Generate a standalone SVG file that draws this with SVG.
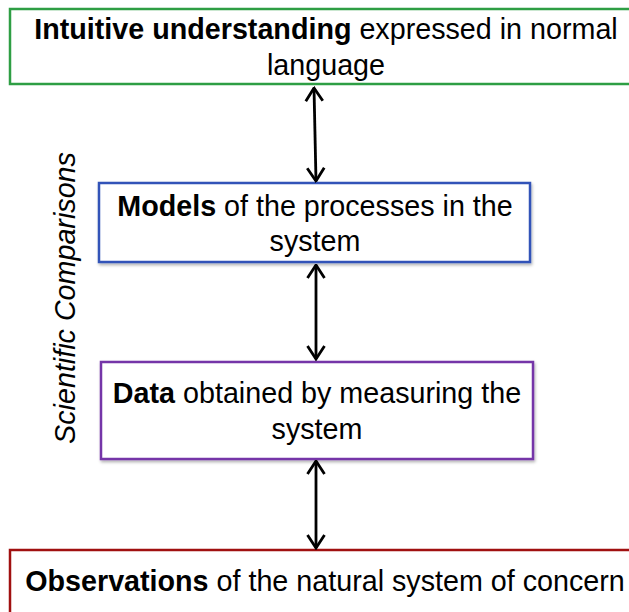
<svg xmlns="http://www.w3.org/2000/svg" width="629" height="612" viewBox="0 0 629 612">
<style>
text{font-family:"Liberation Sans",Arial,sans-serif;font-size:28.7px;fill:#000}
.b{font-weight:bold}
.box{fill:#fff;stroke-width:2.5}
.conn line{stroke:#000;stroke-width:2.8;marker-start:url(#ah);marker-end:url(#ah)}
</style>
<defs>
<marker id="ah" viewBox="0 0 16 20" refX="14.5" refY="10" markerWidth="16" markerHeight="20" markerUnits="userSpaceOnUse" orient="auto-start-reverse">
<path d="M1.5,1.5 L14.5,10 L1.5,18.5" fill="none" stroke="#000" stroke-width="2.8"/>
</marker>
<filter id="sh" x="-5%" y="-5%" width="110%" height="120%">
<feDropShadow dx="1" dy="2" stdDeviation="1.5" flood-color="#000" flood-opacity="0.3"/>
</filter>
</defs>
<g id="intuitive">
<rect class="box" x="10" y="9" width="640" height="75" stroke="#2e9e44"/>
<text x="326" y="39" text-anchor="middle"><tspan class="b">Intuitive understanding</tspan> expressed in normal</text>
<text x="326" y="75" text-anchor="middle">language</text>
</g>
<g id="models">
<rect class="box" x="99" y="183" width="431" height="79" stroke="#3153b8" filter="url(#sh)"/>
<text x="315" y="216" text-anchor="middle"><tspan class="b">Models</tspan> of the processes in the</text>
<text x="315" y="251" text-anchor="middle">system</text>
</g>
<g id="data">
<rect class="box" x="101" y="362" width="432" height="97" stroke="#7436a8" filter="url(#sh)"/>
<text x="317" y="403" text-anchor="middle"><tspan class="b">Data</tspan> obtained by measuring the</text>
<text x="317" y="439" text-anchor="middle">system</text>
</g>
<g id="observations">
<rect class="box" x="10" y="550" width="640" height="80" stroke="#a01010"/>
<text x="325" y="591" text-anchor="middle"><tspan class="b">Observations</tspan> of the natural system of concern</text>
</g>
<g id="label">
<text transform="translate(75,298) rotate(-90)" text-anchor="middle" font-style="italic">Scientific Comparisons</text>
</g>
<g id="connectors" class="conn">
<line x1="314" y1="88" x2="316" y2="181"/>
<line x1="316" y1="265" x2="316" y2="359"/>
<line x1="316" y1="461" x2="316" y2="548"/>
</g>
</svg>
